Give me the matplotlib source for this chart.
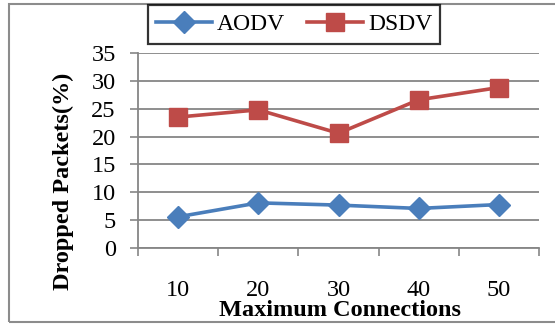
import matplotlib
matplotlib.use("Agg")
import matplotlib.pyplot as plt
from matplotlib.patches import Rectangle
from matplotlib.lines import Line2D

categories = ["10", "20", "30", "40", "50"]
aodv = [5.6, 8.1, 7.7, 7.1, 7.8]
dsdv = [23.5, 24.8, 20.6, 26.6, 28.8]
yticks = [0, 5, 10, 15, 20, 25, 30, 35]

plt.rcParams['font.family'] = ['Liberation Serif', 'DejaVu Serif']

W, H = 555, 324
fig = plt.figure(figsize=(W/100, H/100), dpi=100)
ax = fig.add_axes([138/W, 1-248/H, 401/W, 195/H])

x = list(range(len(categories)))
blue = '#4A7EBB'
red = '#BE4B48'
ax.plot(x, aodv, color=blue, lw=2.6, marker='D', ms=11, mfc=blue, mec=blue, zorder=3)
ax.plot(x, dsdv, color=red, lw=2.6, marker='s', ms=12.5, mfc=red, mec=red, zorder=3)

ax.set_xlim(-0.5, len(categories)-0.5)
ax.set_ylim(0, 35)
ax.set_yticks(yticks)
ax.set_yticklabels([str(v) for v in yticks], fontsize=17.5)
ax.set_xticks(x)
ax.set_xticklabels(categories, fontsize=17.5)
ax.set_xticks([i-0.5 for i in range(len(categories)+1)], minor=True)
ax.tick_params(axis='x', which='major', length=0, pad=23)
ax.tick_params(axis='x', which='minor', length=6, width=1.2, color='#868686', direction='out')
ax.tick_params(axis='y', length=6, width=1.2, color='#868686', pad=10)
ax.grid(axis='y', color='#868686', lw=1.3)
ax.set_axisbelow(True)
for s in ['top', 'right']:
    ax.spines[s].set_visible(False)
for s in ['left', 'bottom']:
    ax.spines[s].set_color('#868686')
    ax.spines[s].set_linewidth(1.3)

fig.text(63/W, 1-181/H, 'Dropped Packets(%)', fontsize=17.5, fontweight='bold',
         rotation=90, ha='center', va='center')
fig.text(340/W, 1-310/H, 'Maximum Connections', fontsize=17.5, fontweight='bold',
         ha='center', va='center')

handles = [Line2D([], [], color=blue, lw=2.6, marker='D', ms=11),
           Line2D([], [], color=red, lw=2.6, marker='s', ms=12.5)]
leg = fig.legend(handles, ['AODV', 'DSDV'], loc='center', bbox_to_anchor=(294/W, 1-24.5/H),
                 ncol=2, fontsize=17, frameon=True, fancybox=False, handlelength=2.4,
                 handletextpad=0.2, columnspacing=0.9, borderpad=0.35)
leg.get_frame().set_edgecolor('black')
leg.get_frame().set_linewidth(1.6)

fig.patches.append(Rectangle((9/W, 1-322/H), 560/W, 318/H, transform=fig.transFigure,
                             fill=False, edgecolor='#8c8c8c', lw=1.5))

fig.savefig('out.png', dpi=100)
